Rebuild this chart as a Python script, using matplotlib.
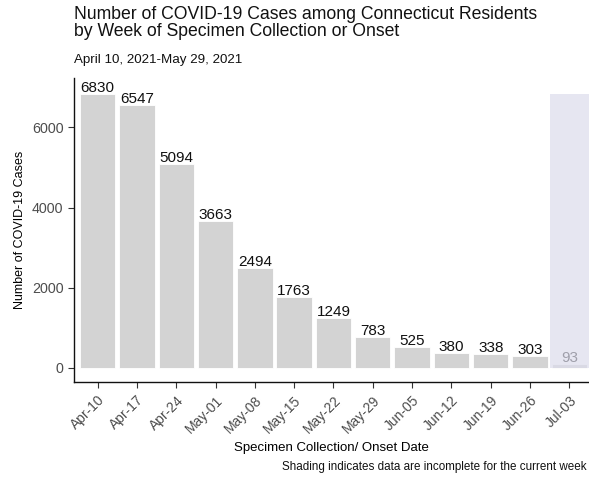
import matplotlib
matplotlib.use("Agg")
import matplotlib.pyplot as plt
import numpy as np

weeks = ["Apr-10", "Apr-17", "Apr-24", "May-01", "May-08", "May-15", "May-22",
         "May-29", "Jun-05", "Jun-12", "Jun-19", "Jun-26", "Jul-03"]
cases = [6830, 6547, 5094, 3663, 2494, 1763, 1249, 783, 525, 380, 338, 303, 93]
yticks = [0, 2000, 4000, 6000]
incomplete_week = "Jul-03"

plt.rcParams["font.family"] = ["Liberation Sans", "DejaVu Sans"]

W, H = 589, 478
fig = plt.figure(figsize=(W / 100, H / 100), dpi=100)
ax = fig.add_axes([74 / W, 1 - 382 / H, (589 - 74) / W, (382 - 78) / H])

x = np.arange(len(weeks))
ax.bar(x, cases, width=0.9, color="#d3d3d3", edgecolor="white", linewidth=0.6, zorder=2)
for xi, v in zip(x, cases):
    ax.text(xi, v + 50, str(v), ha="center", va="baseline", fontsize=11,
            color="#111111", zorder=3)

# shaded band marking the incomplete current week
idx = weeks.index(incomplete_week)
ax.bar(idx, max(cases), width=1.0, color="#dcdcec", alpha=0.7, linewidth=0, zorder=4)

ax.set_xlim(-0.6, 12.5)
ax.set_ylim(-350, 7230)
ax.set_xticks(x)
ax.set_xticklabels(weeks, rotation=45, ha="right", rotation_mode="anchor",
                   fontsize=10, color="#4d4d4d")
ax.set_yticks(yticks)
ax.set_yticklabels([str(t) for t in yticks], fontsize=10.3, color="#4d4d4d")
ax.tick_params(axis="both", direction="out", length=4, width=0.8, color="#333333")
ax.tick_params(axis="x", pad=4)
for s in ["top", "right"]:
    ax.spines[s].set_visible(False)
for s in ["left", "bottom"]:
    ax.spines[s].set_linewidth(1.0)
    ax.spines[s].set_color("#111111")

ax.set_xlabel("Specimen Collection/ Onset Date", fontsize=9.5, labelpad=4)
ax.set_ylabel("Number of COVID-19 Cases", fontsize=9, labelpad=4)

fig.text(74 / W, 1 - 6 / H,
         "Number of COVID-19 Cases among Connecticut Residents\nby Week of Specimen Collection or Onset",
         ha="left", va="top", fontsize=12.7, linespacing=1.0, color="#111111")
fig.text(74 / W, 1 - 63 / H, "April 10, 2021-May 29, 2021", ha="left", va="baseline",
         fontsize=9.6, color="#111111")
fig.text(587 / W, 1 - 467 / H, "Shading indicates data are incomplete for the current week",
         ha="right", va="center", fontsize=8.4, color="#111111")

fig.savefig("out.png", dpi=100)
